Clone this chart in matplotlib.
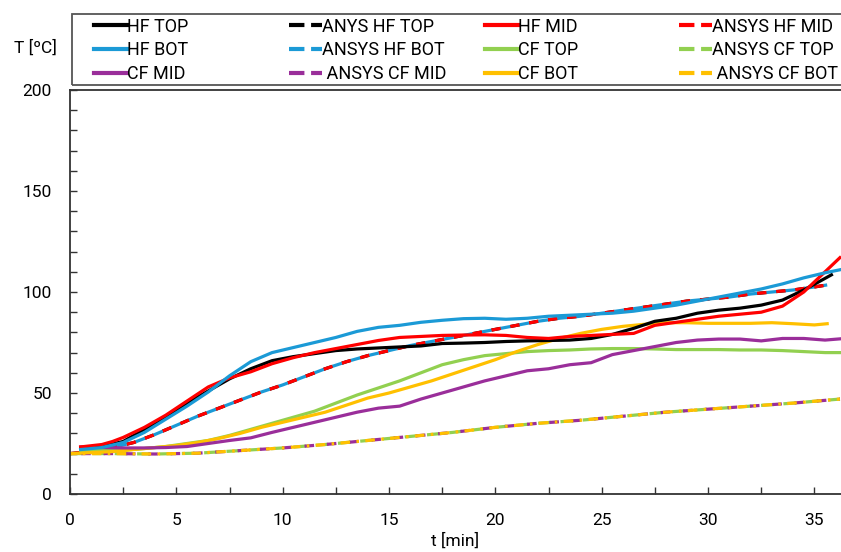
import matplotlib
matplotlib.use("Agg")
import matplotlib.pyplot as plt
from matplotlib.lines import Line2D
from matplotlib.patches import Rectangle
from matplotlib.ticker import MultipleLocator

plt.rcParams['font.family'] = ['Roboto', 'DejaVu Sans']

# --- dati ---
t_hf_top = [0.5, 1.5, 2.5, 3.5, 4.5, 5.5, 6.5, 7.5, 8.5, 9.5, 10.5, 11.5, 12.5, 13.5, 14.5, 15.5, 16.5, 17.5,
            18.5, 19.5, 20.5, 21.5, 22.5, 23.5, 24.5, 25.5, 26.5, 27.5, 28.5, 29.5, 30.5, 31.5, 32.5, 33.5,
            34.5, 35.2, 35.8]
hf_top = [23, 23.5, 26, 32, 38, 45, 51, 57, 62, 66, 68, 69.5, 71, 71.8, 72.3, 72.8, 73.3, 74.5,
          74.7, 75, 75.5, 75.8, 76, 76.2, 77, 79, 82, 85.5, 87, 89.5, 91, 92, 93.5, 96,
          101, 105, 108.5]

t_hf_mid = [0.5, 1.5, 2.0, 2.5, 3.5, 4.5, 5.5, 6.5, 7.5, 8.5, 9.5, 10.5, 11.5, 12.5, 13.5, 14.5, 15.5, 16.5,
            17.5, 18.5, 19.5, 20.5, 21.5, 22.5, 23.5, 24.5, 25.5, 26.5, 27.5, 28.5, 29.5, 30.5, 31.5, 32.5,
            33.5, 34.5, 35.0, 35.5, 36.2]
hf_mid = [23.3, 24.5, 26, 28, 33, 39, 46, 53, 57.5, 60.5, 64.5, 67.5, 70, 72, 74, 76, 77.5, 78,
          78.5, 78.7, 78.8, 78.5, 77.5, 77, 78, 78.5, 79, 79.5, 83.5, 85, 86.5, 88, 89, 90,
          93, 100, 105, 110, 117]

t_hf_bot = [0.5, 1.5, 2.5, 3.5, 4.5, 5.5, 6.5, 7.5, 8.5, 9.5, 10.5, 11.5, 12.5, 13.5, 14.5, 15.5, 16.5, 17.5,
            18.5, 19.5, 20.5, 21.5, 22.5, 23.5, 24.5, 25.5, 26.5, 27.5, 28.5, 29.5, 30.5, 31.5, 32.5, 33.5,
            34.5, 35.5, 36.2]
hf_bot = [22, 23, 25.5, 30.5, 37, 43.5, 50.5, 58.5, 65.5, 70, 72.5, 75, 77.5, 80.5, 82.5, 83.5, 85, 86,
          86.8, 87, 86.5, 87, 88, 88.5, 89, 89.5, 90.5, 92, 93.5, 95.5, 97.5, 99.5, 101.5, 104,
          107, 109.5, 111]

t_ansys_hf = [0, 1, 2, 3, 4, 5, 6, 7, 8, 9, 10, 11, 12, 13, 14, 15, 16, 17, 18, 19, 20, 21, 22, 23, 24, 25,
              26, 27, 28, 29, 30, 31, 32, 33, 34, 35, 35.6]
ansys_hf = [20, 21, 23, 25.5, 29.5, 34, 38.5, 42.5, 46.5, 50.5, 54, 58, 62, 65.5, 68.5, 71, 73.5, 75.5,
            77.5, 79.5, 81.5, 83.5, 85.5, 87, 88, 89.5, 91, 92.5, 94, 95.5, 96.5, 97.5, 99, 100, 101,
            102.5, 103.5]

t_cf_top = [0.5, 1.5, 2.5, 3.5, 4.5, 5.5, 6.5, 7.5, 8.5, 9.5, 10.5, 11.5, 12.5, 13.5, 14.5, 15.5, 16.5, 17.5,
            18.5, 19.5, 20.5, 21.5, 22.5, 23.5, 24.5, 25.5, 26.5, 27.5, 28.5, 29.5, 30.5, 31.5, 32.5, 33.5,
            34.5, 35.5, 36.2]
cf_top = [21.5, 21.5, 21.7, 22.5, 23.5, 25, 26.5, 29, 32, 35, 38, 41, 45, 49, 52.5, 56, 60, 64,
          66.5, 68.5, 69.5, 70.5, 71, 71.3, 71.8, 72, 72, 71.8, 71.5, 71.5, 71.5, 71.3, 71.3, 71,
          70.5, 70, 70]

t_cf_mid = [0.5, 1.5, 2.5, 3.5, 4.5, 5.5, 6.5, 7.5, 8.5, 9.5, 10.5, 11.5, 12.5, 13.5, 14.5, 15.5, 16.5, 17.5,
            18.5, 19.5, 20.5, 21.5, 22.5, 23.5, 24.5, 25.5, 26.5, 27.5, 28.5, 29.5, 30.5, 31.5, 32.5, 33.5,
            34.5, 35.5, 36.2]
cf_mid = [23.3, 23, 22.8, 22.8, 23, 23.5, 25, 26.5, 27.8, 30.5, 33, 35.5, 38, 40.5, 42.5, 43.5, 47, 50,
          53, 56, 58.5, 61, 62, 64, 65, 69, 71, 73, 75, 76.2, 76.7, 76.7, 75.8, 77, 77, 76.2, 76.8]

t_cf_bot = [0, 1, 2, 3, 4, 5, 6, 7, 8, 9, 10, 11, 12, 13, 14, 15, 16, 17, 18, 19, 20, 21, 22, 23, 24, 25,
            26, 27, 28, 29, 30, 31, 32, 33, 34, 35, 35.6]
cf_bot = [20, 20.5, 21, 22, 23, 24, 25.5, 27.5, 30, 33, 35.5, 38, 40.5, 44, 47.5, 50, 53, 56, 59.5, 63,
          66.5, 70.5, 74, 77, 79.5, 81.5, 83, 84, 84.8, 84.8, 84.5, 84.5, 84.5, 84.8, 84.3, 83.7, 84.3]

t_ansys_cf = [0, 2, 4, 6, 8, 10, 12, 14, 16, 18, 20, 22, 24, 26, 28, 30, 32, 34, 36.2]
ansys_cf = [20, 20, 19.8, 20.2, 21.5, 22.8, 24.5, 26.5, 28.5, 30.5, 33, 35, 36.5, 38.5, 40.5, 42, 43.5,
            45, 47]

black = '#000000'
red = '#ff0000'
blue = '#1b9ad6'
green = '#92d050'
purple = '#9a2e9a'
yellow = '#ffc000'

fig = plt.figure(figsize=(8.41, 5.52), dpi=100)
ax = fig.add_axes([70 / 841, 58 / 552, 771 / 841, 404 / 552])

lw = 2.3
# ANSYS (tratteggiate) sotto
l_ahf_top, = ax.plot(t_ansys_hf, ansys_hf, color=black, lw=lw, linestyle=(0, (3, 3)))
l_ahf_mid, = ax.plot(t_ansys_hf, ansys_hf, color=red, lw=lw, linestyle=(0, (3, 3)))
l_ahf_bot, = ax.plot(t_ansys_hf, ansys_hf, color=blue, lw=lw, linestyle=(3, (3, 3)))
l_acf_top, = ax.plot(t_ansys_cf, ansys_cf, color=green, lw=lw, linestyle=(0, (4, 3)))
l_acf_mid, = ax.plot(t_ansys_cf, ansys_cf, color=purple, lw=lw, linestyle=(3.5, (3, 4)))
l_acf_bot, = ax.plot(t_ansys_cf, ansys_cf, color=yellow, lw=lw, linestyle=(1, (3, 2, 0.8, 2)))

l_cf_top, = ax.plot(t_cf_top, cf_top, color=green, lw=lw)
l_cf_bot, = ax.plot(t_cf_bot, cf_bot, color=yellow, lw=lw)
l_cf_mid, = ax.plot(t_cf_mid, cf_mid, color=purple, lw=lw)
l_hf_top, = ax.plot(t_hf_top, hf_top, color=black, lw=lw)
l_hf_mid, = ax.plot(t_hf_mid, hf_mid, color=red, lw=lw)
l_hf_bot, = ax.plot(t_hf_bot, hf_bot, color=blue, lw=lw)

ax.set_xlim(0, 36.25)
ax.set_ylim(0, 200)
ax.xaxis.set_major_locator(MultipleLocator(5))
ax.xaxis.set_minor_locator(MultipleLocator(2.5))
ax.yaxis.set_major_locator(MultipleLocator(50))
ax.yaxis.set_minor_locator(MultipleLocator(10))
ax.tick_params(which='both', direction='in', length=5, width=1, colors='#333333',
               labelcolor='black', labelsize=12.5)
ax.tick_params(axis='x', pad=14)
ax.tick_params(axis='y', pad=13)
for s in ['left', 'bottom', 'top']:
    ax.spines[s].set_color('#333333')
    ax.spines[s].set_linewidth(1.3)
ax.spines['right'].set_visible(False)

ax.set_xlabel('t [min]', fontsize=12.5, labelpad=3)
fig.text(35 / 841, 1 - 48 / 552, 'T [ºC]', fontsize=12.5, ha='center', va='center')

# legenda: 4 colonne, riempite per riga
righe = [
    [(l_hf_top, 'HF TOP'), (l_ahf_top, 'ANYS HF TOP'), (l_hf_mid, 'HF MID'), (l_ahf_mid, 'ANSYS HF MID')],
    [(l_hf_bot, 'HF BOT'), (l_ahf_bot, 'ANSYS HF BOT'), (l_cf_top, 'CF TOP'), (l_acf_top, 'ANSYS CF TOP')],
    [(l_cf_mid, 'CF MID'), (l_acf_mid, ' ANSYS CF MID'), (l_cf_bot, 'CF BOT'), (l_acf_bot, ' ANSYS CF BOT')],
]
col_x = [85, 280, 476, 670]
for c, x0 in enumerate(col_x):
    handles = []
    labels = []
    for r in righe:
        h, lab = r[c]
        handles.append(Line2D([], [], color=h.get_color(), lw=3, linestyle=h.get_linestyle()))
        labels.append(lab)
    leg = fig.legend(handles, labels, loc='upper left', bbox_to_anchor=(x0 / 841, 1 - 8.5 / 552),
                     frameon=False, fontsize=13, handlelength=1.8, handletextpad=0.0,
                     labelspacing=0.32, borderpad=0.0)
fig.add_artist(Rectangle((72 / 841, 1 - 85 / 552), 800 / 841, 71 / 552, transform=fig.transFigure,
                         fill=False, edgecolor='#555555', lw=1.3))

fig.savefig('out.png', dpi=100)
